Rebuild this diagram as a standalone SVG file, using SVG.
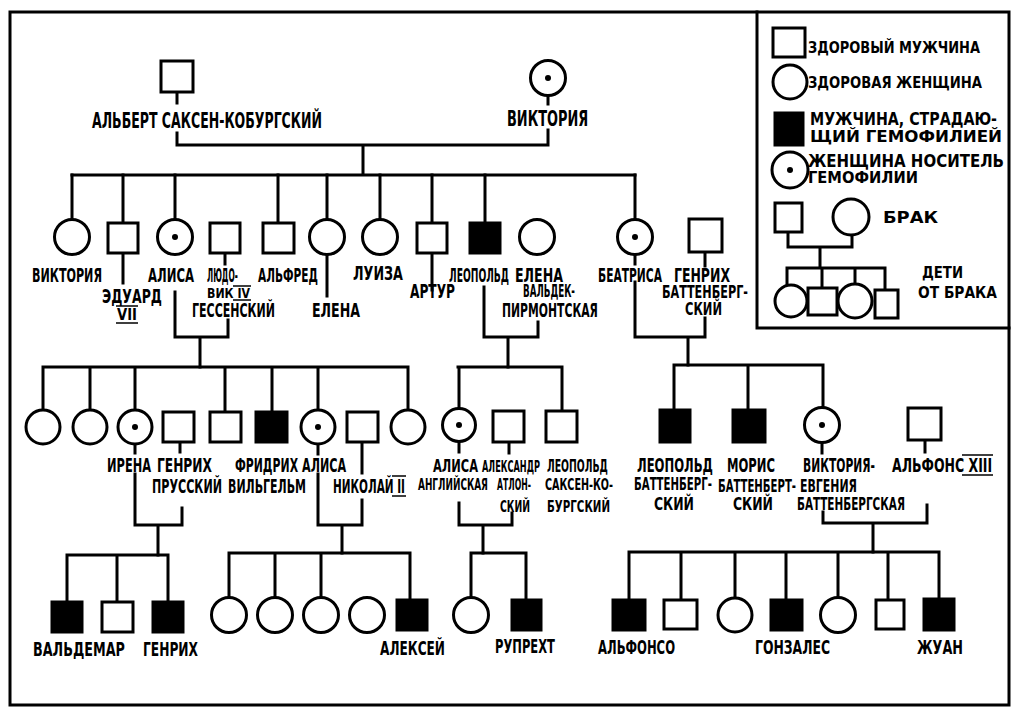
<svg xmlns="http://www.w3.org/2000/svg" width="1013" height="708" viewBox="0 0 1013 708">
<style>
.ln{stroke:#000;stroke-width:3;fill:none;stroke-linecap:square}
.bar{stroke:#000;stroke-width:1.6}
.m{fill:#fff;stroke:#000;stroke-width:3}
.a{fill:#000;stroke:#000;stroke-width:3}
.f{fill:#fff;stroke:#000;stroke-width:3}
.d{fill:#000}
text{font-family:"DejaVu Sans Condensed","DejaVu Sans","Liberation Sans",sans-serif;font-weight:bold;text-transform:uppercase;fill:#000}
.s22{font-size:22px}.s20{font-size:20px}.s19{font-size:19px}.s18{font-size:18px}.s17{font-size:17px}.s16{font-size:16px}.s15{font-size:15px}.s14{font-size:14px}
</style>
<rect width="1013" height="708" fill="#fff"/>
<g id="frame">
<path class="ln" d="M10 12H1009V705H10Z"/>
<path class="ln" d="M757 12V328H1009"/>
</g>
<g id="connectors">
<path class="ln" d="M177 92V103M177 133V145H548M548 96V104M548 130V145M363 145V175M72 175H635"/>
<path class="ln" d="M72 175V219M123 175V223M175 175V219M278 175V223M327 175V219M380 175V219M432 175V223M485 175V223M635 175V219"/>
<path class="ln" d="M123 253V283M225 253V264M327 255V296M432 253V290M635 255V264M705 252V266"/>
<path class="ln" d="M175 292V337H228V320M200 337V367"/>
<path class="ln" d="M484 287V337H538V322M508 337V367"/>
<path class="ln" d="M635 282V337H705V318M688 337V365"/>
<path class="ln" d="M43 367H408M43 367V410M90 367V410M135 367V410M225 367V412M272 367V412M318 367V410M408 367V410"/>
<path class="ln" d="M180 442V452M362 442V473M135 444V453M318 444V454"/>
<path class="ln" d="M458 367H562M459 367V408M562 367V411M509 442V453M459 442V452"/>
<path class="ln" d="M674 365H823M674 365V410M748 365V410M823 365V407M925 440V452M822 443V453"/>
<path class="ln" d="M135 474V525H182V508M158 525V555"/>
<path class="ln" d="M318 474V525H362V500M342 525V553"/>
<path class="ln" d="M459 503V525H512V513M483 525V553"/>
<path class="ln" d="M823 512V523H927V505M873 523V552"/>
<path class="ln" d="M67 555H168M67 555V602M117 555V602M168 555V602"/>
<path class="ln" d="M229 553H410M229 553V597M275 553V597M321 553V597M410 553V600"/>
<path class="ln" d="M471 553H526M471 553V597M526 553V600"/>
<path class="ln" d="M629 552H939M629 552V600M681 552V600M735 552V598M786 552V600M838 552V598M888 552V600M939 552V599"/>
<path class="ln" d="M788 232V247H852V235M820 247V268M787 268H885M787 268V285M822 268V288M855 268V284M885 268V290"/>
</g>
<g id="albert"><rect class="m" x="161" y="61" width="32" height="31"/><text class="s22" transform="translate(92 128) scale(0.62 1)" textLength="371" lengthAdjust="spacingAndGlyphs">Альберт Саксен-Кобургский</text></g>
<g id="victoria"><circle class="f" cx="548" cy="78" r="17.5"/><circle class="d" cx="548" cy="78" r="3"/><text class="s22" transform="translate(507 126) scale(0.66 1)" textLength="123" lengthAdjust="spacingAndGlyphs">Виктория</text></g>
<g id="victoria2"><circle class="f" cx="72" cy="237" r="17.5"/><text class="s20" transform="translate(32 282) scale(0.625 1)" textLength="112" lengthAdjust="spacingAndGlyphs">Виктория</text></g>
<g id="edward"><rect class="m" x="108" y="223" width="30" height="30"/><text class="s20" transform="translate(102 303) scale(0.714 1)" textLength="84" lengthAdjust="spacingAndGlyphs">Эдуард</text><text class="s15" x="117" y="320" textLength="20" lengthAdjust="spacingAndGlyphs">VII</text><path class="bar" d="M116 306H138M116 323H138"/></g>
<g id="alice"><circle class="f" cx="175" cy="237" r="17.5"/><circle class="d" cx="175" cy="237" r="3"/><text class="s20" transform="translate(148 282) scale(0.657 1)" textLength="70" lengthAdjust="spacingAndGlyphs">Алиса</text></g>
<g id="ludwig"><rect class="m" x="210" y="223" width="30" height="30"/><text class="s20" transform="translate(207 282) scale(0.49 1)" textLength="63" lengthAdjust="spacingAndGlyphs">Людо-</text><text class="s14" x="207" y="298" textLength="43" lengthAdjust="spacingAndGlyphs">вик IV</text><path class="bar" d="M233 286H251M233 300H251"/><text class="s20" transform="translate(192 317) scale(0.593 1)" textLength="140" lengthAdjust="spacingAndGlyphs">Гессенский</text></g>
<g id="alfred"><rect class="m" x="263" y="223" width="31" height="30"/><text class="s20" transform="translate(258 282) scale(0.612 1)" textLength="98" lengthAdjust="spacingAndGlyphs">Альфред</text></g>
<g id="helena"><circle class="f" cx="327" cy="237" r="17.5"/><text class="s20" transform="translate(312 317) scale(0.686 1)" textLength="70" lengthAdjust="spacingAndGlyphs">Елена</text></g>
<g id="louise"><circle class="f" cx="380" cy="237" r="17.5"/><text class="s20" transform="translate(353 280) scale(0.714 1)" textLength="70" lengthAdjust="spacingAndGlyphs">Луиза</text></g>
<g id="arthur"><rect class="m" x="417" y="223" width="30" height="30"/><text class="s20" transform="translate(410 298) scale(0.643 1)" textLength="70" lengthAdjust="spacingAndGlyphs">Артур</text></g>
<g id="leopold"><rect class="a" x="470" y="223" width="30" height="30"/><text class="s20" transform="translate(449 282) scale(0.536 1)" textLength="112" lengthAdjust="spacingAndGlyphs">Леопольд</text></g>
<g id="helena-waldeck"><circle class="f" cx="537" cy="237" r="17.5"/><text class="s20" transform="translate(515 282) scale(0.686 1)" textLength="70" lengthAdjust="spacingAndGlyphs">Елена</text><text class="s17" transform="translate(523 297) scale(0.584 1)" textLength="89" lengthAdjust="spacingAndGlyphs">Вальдек-</text><text class="s20" transform="translate(502 317) scale(0.623 1)" textLength="154" lengthAdjust="spacingAndGlyphs">Пирмонтская</text></g>
<g id="beatrice"><circle class="f" cx="635" cy="237" r="17.5"/><circle class="d" cx="635" cy="237" r="3"/><text class="s20" transform="translate(598 282) scale(0.571 1)" textLength="112" lengthAdjust="spacingAndGlyphs">Беатриса</text></g>
<g id="henry-batt"><rect class="m" x="689" y="219" width="33" height="33"/><text class="s20" transform="translate(674 282) scale(0.667 1)" textLength="84" lengthAdjust="spacingAndGlyphs">Генрих</text><text class="s17" transform="translate(662 298) scale(0.688 1)" textLength="125" lengthAdjust="spacingAndGlyphs">Баттенберг-</text><text class="s17" transform="translate(685 315) scale(0.777 1)" textLength="47.6" lengthAdjust="spacingAndGlyphs">ский</text></g>
<g id="g3-daughter1"><circle class="f" cx="43" cy="427" r="17"/></g>
<g id="g3-daughter2"><circle class="f" cx="90" cy="427" r="17"/></g>
<g id="irene"><circle class="f" cx="135" cy="427" r="17"/><circle class="d" cx="135" cy="427" r="3"/><text class="s19" transform="translate(107 472) scale(0.662 1)" textLength="66.5" lengthAdjust="spacingAndGlyphs">Ирена</text></g>
<g id="henry-prussia"><rect class="m" x="163" y="412" width="31" height="30"/><text class="s19" transform="translate(157 472) scale(0.689 1)" textLength="79.8" lengthAdjust="spacingAndGlyphs">Генрих</text><text class="s19" transform="translate(152 493) scale(0.658 1)" textLength="106.4" lengthAdjust="spacingAndGlyphs">Прусский</text></g>
<g id="g3-son"><rect class="m" x="210" y="412" width="31" height="30"/></g>
<g id="friedrich"><rect class="a" x="256" y="412" width="31" height="30"/><text class="s19" transform="translate(235 472) scale(0.677 1)" textLength="93.1" lengthAdjust="spacingAndGlyphs">Фридрих</text><text class="s19" transform="translate(228 493) scale(0.652 1)" textLength="119.7" lengthAdjust="spacingAndGlyphs">Вильгельм</text></g>
<g id="alix"><circle class="f" cx="318" cy="427" r="17"/><circle class="d" cx="318" cy="427" r="3"/><text class="s19" transform="translate(302 472) scale(0.662 1)" textLength="66.5" lengthAdjust="spacingAndGlyphs">Алиса</text></g>
<g id="nicholas"><rect class="m" x="347" y="412" width="31" height="30"/><text class="s19" transform="translate(333 493) scale(0.65 1)" textLength="110.8" lengthAdjust="spacingAndGlyphs">Николай II</text><path class="bar" d="M392 476H406M392 496H406"/></g>
<g id="g3-daughter3"><circle class="f" cx="408" cy="427" r="17"/></g>
<g id="alice-athlone"><circle class="f" cx="459" cy="425" r="16.5"/><circle class="d" cx="459" cy="425" r="3"/><text class="s17" transform="translate(433 472) scale(0.756 1)" textLength="59.5" lengthAdjust="spacingAndGlyphs">Алиса</text><text class="s16" transform="translate(418 490) scale(0.625 1)" textLength="112" lengthAdjust="spacingAndGlyphs">Английская</text></g>
<g id="alexander"><rect class="m" x="493" y="411" width="31" height="31"/><text class="s16" transform="translate(482 472) scale(0.575 1)" textLength="100.8" lengthAdjust="spacingAndGlyphs">Александр</text><text class="s16" transform="translate(497 490) scale(0.552 1)" textLength="61.6" lengthAdjust="spacingAndGlyphs">Атлон-</text><text class="s16" transform="translate(500 512) scale(0.67 1)" textLength="44.8" lengthAdjust="spacingAndGlyphs">ский</text></g>
<g id="leopold-sc"><rect class="m" x="546" y="411" width="31" height="31"/><text class="s17" transform="translate(547 472) scale(0.64 1)" textLength="95.2" lengthAdjust="spacingAndGlyphs">Леопольд</text><text class="s16" transform="translate(545 490) scale(0.675 1)" textLength="100.8" lengthAdjust="spacingAndGlyphs">Саксен-Ко-</text><text class="s15" transform="translate(547 512) scale(0.75 1)" textLength="84" lengthAdjust="spacingAndGlyphs">бургский</text></g>
<g id="leopold-batt"><rect class="a" x="660" y="410" width="30" height="32"/><text class="s19" transform="translate(637 472) scale(0.714 1)" textLength="106.4" lengthAdjust="spacingAndGlyphs">Леопольд</text><text class="s17" transform="translate(634 490) scale(0.624 1)" textLength="125" lengthAdjust="spacingAndGlyphs">Баттенберг-</text><text class="s17" transform="translate(654 510) scale(0.84 1)" textLength="47.6" lengthAdjust="spacingAndGlyphs">ский</text></g>
<g id="maurice"><rect class="a" x="733" y="410" width="32" height="32"/><text class="s19" transform="translate(727 472) scale(0.722 1)" textLength="66.5" lengthAdjust="spacingAndGlyphs">Морис</text><text class="s17" transform="translate(718 492) scale(0.624 1)" textLength="125" lengthAdjust="spacingAndGlyphs">Баттенберт-</text><text class="s17" transform="translate(733 510) scale(0.84 1)" textLength="47.6" lengthAdjust="spacingAndGlyphs">ский</text></g>
<g id="victoria-eugenie"><circle class="f" cx="822" cy="425" r="17.5"/><circle class="d" cx="822" cy="425" r="3"/><text class="s19" transform="translate(803 472) scale(0.637 1)" textLength="113" lengthAdjust="spacingAndGlyphs">Виктория-</text><text class="s17" transform="translate(800 492) scale(0.684 1)" textLength="83.3" lengthAdjust="spacingAndGlyphs">Евгения</text><text class="s17" transform="translate(797 510) scale(0.648 1)" textLength="166.6" lengthAdjust="spacingAndGlyphs">Баттенбергская</text></g>
<g id="alfonso13"><rect class="m" x="908" y="408" width="33" height="32"/><text class="s19" transform="translate(892 472) scale(0.72 1)" textLength="139" lengthAdjust="spacingAndGlyphs">Альфонс XIII</text><path class="bar" d="M962 455H993M962 475H993"/></g>
<g id="waldemar"><rect class="a" x="52" y="602" width="30" height="30"/><text class="s20" transform="translate(33 656) scale(0.73 1)" textLength="126" lengthAdjust="spacingAndGlyphs">Вальдемар</text></g>
<g id="g4-son1"><rect class="m" x="102" y="602" width="31" height="30"/></g>
<g id="henry-g4"><rect class="a" x="153" y="602" width="30" height="30"/><text class="s20" transform="translate(143 656) scale(0.655 1)" textLength="84" lengthAdjust="spacingAndGlyphs">Генрих</text></g>
<g id="olga"><circle class="f" cx="229" cy="615" r="17.5"/></g>
<g id="tatiana"><circle class="f" cx="275" cy="615" r="17.5"/></g>
<g id="maria"><circle class="f" cx="321" cy="615" r="17.5"/></g>
<g id="anastasia"><circle class="f" cx="367" cy="615" r="17.5"/></g>
<g id="alexei"><rect class="a" x="397" y="600" width="30" height="30"/><text class="s20" transform="translate(380 655) scale(0.663 1)" textLength="98" lengthAdjust="spacingAndGlyphs">Алексей</text></g>
<g id="may"><circle class="f" cx="471" cy="615" r="17.5"/></g>
<g id="rupert"><rect class="a" x="512" y="600" width="29" height="30"/><text class="s19" transform="translate(495 653) scale(0.644 1)" textLength="93.1" lengthAdjust="spacingAndGlyphs">Рупрехт</text></g>
<g id="alfonso"><rect class="a" x="613" y="600" width="32" height="30"/><text class="s19" transform="translate(598 654) scale(0.724 1)" textLength="106.4" lengthAdjust="spacingAndGlyphs">Альфонсо</text></g>
<g id="jaime"><rect class="m" x="664" y="600" width="33" height="29"/></g>
<g id="beatriz"><circle class="f" cx="735" cy="615" r="17"/></g>
<g id="gonzalo"><rect class="a" x="771" y="600" width="31" height="30"/><text class="s19" transform="translate(755 654) scale(0.705 1)" textLength="106.4" lengthAdjust="spacingAndGlyphs">Гонзалес</text></g>
<g id="maria-cristina"><circle class="f" cx="838" cy="615" r="17.5"/></g>
<g id="g4-son2"><rect class="m" x="876" y="600" width="28" height="29"/></g>
<g id="juan"><rect class="a" x="924" y="599" width="30" height="31"/><text class="s19" transform="translate(917 654) scale(0.865 1)" textLength="53.2" lengthAdjust="spacingAndGlyphs">Жуан</text></g>
<g id="legend">
<rect class="m" x="773" y="28" width="32" height="29"/>
<text class="s16" x="808" y="53" textLength="172" lengthAdjust="spacingAndGlyphs">Здоровый мужчина</text>
<circle class="f" cx="790" cy="82" r="17"/>
<text class="s16" x="808" y="88" textLength="174" lengthAdjust="spacingAndGlyphs">Здоровая женщина</text>
<rect class="a" x="775" y="113" width="28" height="32"/>
<text class="s17" x="810" y="125" textLength="187" lengthAdjust="spacingAndGlyphs">Мужчина, страдаю-</text>
<text class="s15" x="810" y="142" textLength="192" lengthAdjust="spacingAndGlyphs">щий гемофилией</text>
<circle class="f" cx="790" cy="170" r="18"/><circle class="d" cx="790" cy="170" r="3"/>
<text class="s17" x="808" y="167" textLength="196" lengthAdjust="spacingAndGlyphs">Женщина носитель</text>
<text class="s15" x="808" y="183" textLength="110" lengthAdjust="spacingAndGlyphs">гемофилии</text>
<rect class="m" x="775" y="203" width="27" height="29"/>
<circle class="f" cx="851" cy="217" r="18"/>
<text class="s16" x="883" y="223" textLength="55" lengthAdjust="spacingAndGlyphs">Брак</text>
<circle class="f" cx="791" cy="301" r="16"/>
<rect class="m" x="808" y="288" width="29" height="27"/>
<circle class="f" cx="855" cy="301" r="17"/>
<rect class="m" x="875" y="290" width="23" height="28"/>
<text class="s16" x="922" y="278" textLength="41" lengthAdjust="spacingAndGlyphs">Дети</text>
<text class="s16" x="918" y="298" textLength="79" lengthAdjust="spacingAndGlyphs">от брака</text>
</g>
</svg>
